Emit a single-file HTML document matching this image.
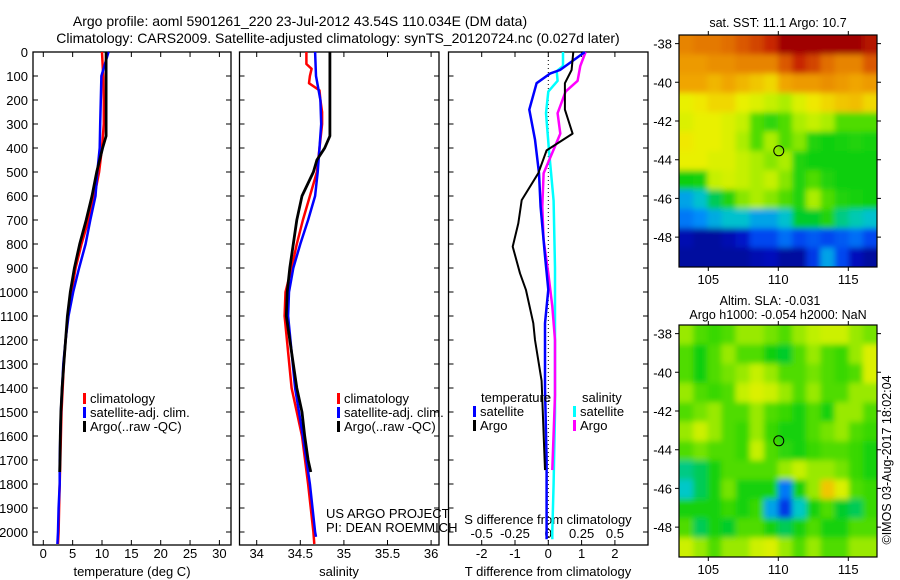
<!DOCTYPE html>
<html><head><meta charset="utf-8">
<style>
html,body{margin:0;padding:0;background:#fff;}
svg{display:block;font-family:"Liberation Sans",sans-serif;}
text{font-size:13px;fill:#000;}
</style></head>
<body>
<svg id="fig" width="900" height="580" viewBox="0 0 900 580">
<defs>
<filter id="blur" x="0" y="0" width="1" height="1"><feGaussianBlur stdDeviation="3"/></filter>
<clipPath id="clipM1"><rect x="679" y="35" width="198" height="232"/></clipPath>
<clipPath id="clipM2"><rect x="679" y="325" width="198" height="232"/></clipPath>
</defs>
<text x="300" y="26" text-anchor="middle" style="font-size:14px">Argo profile: aoml 5901261_220 23-Jul-2012 43.54S 110.034E (DM data)</text>
<text x="338" y="43" text-anchor="middle" style="font-size:14px">Climatology: CARS2009. Satellite-adjusted climatology: synTS_20120724.nc (0.027d later)</text>
<g id="g1"></g>
<g id="g2"></g>
<g id="g3"></g>
<g id="m1"></g>
<g id="m2"></g>
<text transform="translate(891,460) rotate(-90)" text-anchor="middle" style="font-size:12.5px">©IMOS 03-Aug-2017 18:02:04</text>
</svg>
<script>
// ---- profile data ----
const depthTicks=[0,100,200,300,400,500,600,700,800,900,1000,1100,1200,1300,1400,1500,1600,1700,1800,1900,2000];
const tempTicks=[0,5,10,15,20,25,30];
const salTicks=[34,34.5,35,35.5,36];
const tdiffTicks=[-2,-1,0,1,2];
const sdiffTicks=[-0.5,-0.25,0,0.25,0.5];
const sdiffTickLabels=["-0.5","-0.25","0","0.25","0.5"];

const climDepth=[0,100,200,300,400,500,600,700,800,900,1000,1100,1200,1300,1400,1500,1600,1700,1800,1900,2000,2050];
const climTemp=[10.0,10.2,10.3,10.3,10.0,9.5,8.7,7.7,6.5,5.5,4.8,4.2,3.8,3.5,3.3,3.1,3.0,2.9,2.8,2.7,2.6,2.5];
const satTemp=[11.1,9.9,9.8,9.7,9.6,9.2,8.9,8.0,7.2,6.1,5.1,4.3,3.8,3.4,3.2,3.0,2.9,2.8,2.8,2.6,2.5,2.4];
const argoDepth=[0,100,200,300,350,400,500,600,700,800,900,1000,1100,1200,1300,1400,1500,1600,1700,1750];
const argoTemp=[10.7,10.7,10.7,10.7,10.7,10.1,9.1,8.3,7.3,6.2,5.3,4.6,4.1,3.8,3.5,3.2,3.0,2.9,2.85,2.8];

const climSalDepth=[0,50,70,100,130,160,200,250,300,400,500,600,700,800,900,1000,1100,1400,1600,1800,2000,2050];
const climSal=[34.57,34.57,34.63,34.61,34.60,34.72,34.73,34.75,34.75,34.72,34.69,34.61,34.53,34.46,34.40,34.33,34.32,34.40,34.52,34.59,34.65,34.66];
const satSalDepth=[0,100,200,300,400,500,600,700,800,900,1000,1100,1400,1600,1800,2000,2020];
const satSal=[34.67,34.68,34.73,34.74,34.72,34.70,34.67,34.59,34.50,34.42,34.37,34.36,34.44,34.53,34.61,34.67,34.68];
const argoSalDepth=[0,350,400,450,500,600,700,800,900,1000,1100,1400,1500,1600,1700,1750];
const argoSal=[34.84,34.84,34.78,34.69,34.65,34.52,34.46,34.42,34.38,34.35,34.34,34.46,34.52,34.55,34.59,34.62];

const dTsatDepth=[0,75,90,130,240,365,505,645,850,990,1130,1400,1700,2000,2030];
const dTsat=[1.1,0.35,0.05,-0.35,-0.57,-0.4,-0.28,-0.23,-0.1,0,-0.1,-0.1,-0.05,-0.05,-0.05];
const dTargoDepth=[0,75,130,240,340,365,410,505,617,714,811,922,992,1130,1200,1370,1742];
const dTargo=[0.75,0.7,0.5,0.5,0.73,0.45,-0.05,-0.3,-0.8,-0.9,-1.07,-0.85,-0.67,-0.45,-0.4,-0.2,-0.1];
const dSsatDepth=[0,58,80,120,165,255,410,620,900,1200,1500,1800,2000,2030];
const dSsat=[0.11,0.11,0.063,0.07,0,-0.017,0.005,0.04,0.05,0.05,0.05,0.04,0.03,0.03];
const dSargoDepth=[0,58,120,165,255,340,400,505,645,783,922,1060,1200,1430,1742];
const dSargo=[0.28,0.24,0.22,0.13,0.07,0.09,0.045,-0.035,-0.045,-0.035,0,0.03,0.05,0.05,0.03];

// ---- map data (colormap fraction, rows north->south at 1 deg) ----
const lonTicks=[105,110,115];
const latTicks=[-38,-40,-42,-44,-46,-48];
const sstGrid=[
[0.78,0.8,0.8,0.82,0.85,0.88,0.92,1,1,1,1,1,1,0.96],
[0.74,0.74,0.76,0.76,0.78,0.78,0.78,0.85,0.92,0.88,0.82,0.78,0.78,0.85],
[0.72,0.72,0.7,0.72,0.7,0.68,0.66,0.72,0.74,0.74,0.76,0.74,0.72,0.74],
[0.62,0.64,0.66,0.66,0.62,0.6,0.57,0.55,0.6,0.64,0.66,0.68,0.69,0.66],
[0.6,0.62,0.62,0.6,0.57,0.5,0.47,0.5,0.55,0.57,0.55,0.5,0.5,0.5],
[0.64,0.62,0.62,0.6,0.55,0.5,0.55,0.5,0.53,0.46,0.44,0.45,0.46,0.45],
[0.62,0.62,0.6,0.6,0.57,0.55,0.53,0.55,0.46,0.44,0.44,0.44,0.44,0.44],
[0.44,0.45,0.57,0.59,0.57,0.55,0.57,0.53,0.46,0.5,0.46,0.44,0.44,0.44],
[0.3,0.34,0.4,0.46,0.53,0.55,0.53,0.5,0.46,0.55,0.5,0.46,0.45,0.44],
[0.25,0.27,0.31,0.34,0.34,0.3,0.3,0.34,0.42,0.42,0.46,0.38,0.36,0.34],
[0.08,0.05,0.05,0.08,0.12,0.2,0.2,0.24,0.2,0.22,0.2,0.22,0.24,0.2],
[0.05,0.05,0.05,0.05,0.05,0.08,0.1,0.05,0.05,0.18,0.3,0.2,0.1,0.05]];
const slaGrid=[
[0.54,0.5,0.48,0.5,0.54,0.54,0.52,0.5,0.54,0.56,0.58,0.58,0.54,0.52],
[0.5,0.44,0.5,0.54,0.5,0.5,0.44,0.42,0.5,0.54,0.5,0.48,0.54,0.6],
[0.5,0.44,0.5,0.52,0.54,0.57,0.54,0.5,0.5,0.52,0.5,0.48,0.5,0.6],
[0.54,0.5,0.48,0.5,0.57,0.6,0.58,0.54,0.5,0.54,0.5,0.5,0.54,0.54],
[0.5,0.52,0.54,0.5,0.5,0.54,0.5,0.48,0.45,0.5,0.45,0.54,0.54,0.5],
[0.54,0.58,0.54,0.5,0.48,0.54,0.48,0.45,0.45,0.5,0.52,0.54,0.5,0.48],
[0.5,0.52,0.5,0.5,0.48,0.57,0.5,0.47,0.45,0.48,0.5,0.5,0.48,0.45],
[0.38,0.4,0.45,0.5,0.5,0.5,0.5,0.54,0.57,0.54,0.54,0.52,0.48,0.45],
[0.35,0.4,0.45,0.52,0.45,0.45,0.45,0.25,0.45,0.54,0.68,0.6,0.5,0.48],
[0.45,0.45,0.45,0.48,0.45,0.48,0.3,0.18,0.35,0.45,0.5,0.42,0.4,0.48],
[0.5,0.4,0.45,0.42,0.5,0.5,0.45,0.4,0.45,0.5,0.45,0.45,0.5,0.5],
[0.58,0.54,0.5,0.54,0.54,0.58,0.6,0.54,0.5,0.54,0.5,0.5,0.54,0.54]];
const floatLon=110.034, floatLat=-43.54;

const NS="http://www.w3.org/2000/svg";
function mk(parent,tag,attrs,txt){const e=document.createElementNS(NS,tag);for(const k in attrs)e.setAttribute(k,attrs[k]);if(txt!==undefined)e.textContent=txt;parent.appendChild(e);return e;}

const TOP=52,BOT=545;
const yD=d=>TOP+d*0.24;
function panel(g,x0,x1,name){
  const r=mk(g,'rect',{x:x0,y:TOP,width:x1-x0,height:BOT-TOP,fill:'none',stroke:'#000','stroke-width':1.3});
  
  
  depthTicks.forEach(d=>{
    const t=mk(g,'path',{d:`M${x0},${yD(d)}h5M${x1},${yD(d)}h-5`,stroke:'#000','stroke-width':1});
    
    
  });
}
function xticks(g,xs,fx,labels,ly,name){
  xs.forEach((v,i)=>{
    const x=fx(v);
    const t=mk(g,'path',{d:`M${x},${TOP}v5M${x},${BOT}v-5`,stroke:'#000','stroke-width':1});
    
    
    if(labels){
      const l=mk(g,'text',{x:x,y:ly,'text-anchor':'middle'},labels[i]);
      
      
    }
  });
}
function line(g,xs,ds,fx,color,w,name){
  const pts=xs.map((v,i)=>fx(v).toFixed(1)+','+yD(ds[i]).toFixed(1)).join(' ');
  const p=mk(g,'polyline',{points:pts,fill:'none',stroke:color,'stroke-width':w,'stroke-linejoin':'round'});
  
  
}
function legend(g,x,y,color,label,name){
  const b=mk(g,'rect',{x:x,y:y-10,width:3,height:11,fill:color});
  
  
  const t=mk(g,'text',{x:x+7,y:y},label);
  
  
}

const g1=document.getElementById('g1');
depthTicks.forEach(d=>{
  const t=mk(g1,'text',{x:28,y:yD(d)+5,'text-anchor':'end'},String(d));
  
  
});
const fT=v=>43.3+5.87*v;
panel(g1,33,231,'temperature-panel');
xticks(g1,tempTicks,fT,tempTicks.map(String),558,'temperature');
line(g1,climTemp,climDepth,fT,'#f00',2.5,'climatology-temperature-line');
line(g1,satTemp,climDepth,fT,'#00f',2.5,'satellite-temperature-line');
line(g1,argoTemp,argoDepth,fT,'#000',2.8,'argo-temperature-line');
legend(g1,83,403,'#f00','climatology','temp-legend-climatology');
legend(g1,83,417,'#00f','satellite-adj. clim.','temp-legend-satellite');
legend(g1,83,431,'#000','Argo(..raw -QC)','temp-legend-argo');
mk(g1,'text',{x:132,y:576,'text-anchor':'middle'},'temperature (deg C)');

const g2=document.getElementById('g2');
const fS=v=>256.7+87.2*(v-34);
panel(g2,239.5,439,'salinity-panel');
xticks(g2,salTicks,fS,salTicks.map(String),558,'salinity');
line(g2,climSal,climSalDepth,fS,'#f00',2.5,'climatology-salinity-line');
line(g2,satSal,satSalDepth,fS,'#00f',2.5,'satellite-salinity-line');
line(g2,argoSal,argoSalDepth,fS,'#000',2.8,'argo-salinity-line');
legend(g2,337,403,'#f00','climatology','sal-legend-climatology');
legend(g2,337,417,'#00f','satellite-adj. clim.','sal-legend-satellite');
legend(g2,337,431,'#000','Argo(..raw -QC)','sal-legend-argo');
mk(g2,'text',{x:326,y:518},'US ARGO PROJECT');
mk(g2,'text',{x:326,y:532},'PI: DEAN ROEMMICH');
mk(g2,'text',{x:339,y:576,'text-anchor':'middle'},'salinity');

const g3=document.getElementById('g3');
const fdT=v=>548.3+33.3*v;
const fdS=v=>548.3+133.2*v;
panel(g3,448.5,648,'difference-panel');
const dl=mk(g3,'line',{x1:548.3,y1:TOP,x2:548.3,y2:BOT,stroke:'#000','stroke-width':1,'stroke-dasharray':'1,3'});


xticks(g3,tdiffTicks,fdT,tdiffTicks.map(String),558,'t-diff');
sdiffTicks.forEach((v,i)=>{
  const t=mk(g3,'text',{x:fdS(v),y:538,'text-anchor':'middle'},sdiffTickLabels[i]);
  
  
});
mk(g3,'text',{x:548,y:524,'text-anchor':'middle'},'S difference from climatology');
line(g3,dSsat,dSsatDepth,fdS,'#0ff',2.5,'satellite-salinity-diff-line');
line(g3,dSargo,dSargoDepth,fdS,'#f0f',2.5,'argo-salinity-diff-line');
line(g3,dTsat,dTsatDepth,fdT,'#00f',2.5,'satellite-temperature-diff-line');
line(g3,dTargo,dTargoDepth,fdT,'#000',2,'argo-temperature-diff-line');
mk(g3,'text',{x:481,y:402},'temperature');
mk(g3,'text',{x:582,y:402},'salinity');
legend(g3,473,416,'#00f','satellite','diff-legend-t-satellite');
legend(g3,473,430,'#000','Argo','diff-legend-t-argo');
legend(g3,573,416,'#0ff','satellite','diff-legend-s-satellite');
legend(g3,573,430,'#f0f','Argo','diff-legend-s-argo');
mk(g3,'text',{x:548,y:576,'text-anchor':'middle'},'T difference from climatology');

// ---- maps ----
const cmapStops=[[0,0,0,130],[0.12,0,20,200],[0.2,0,70,240],[0.27,0,140,250],[0.35,0,200,200],[0.43,0,205,20],[0.5,80,220,0],[0.56,190,240,0],[0.63,240,240,0],[0.72,240,165,0],[0.82,225,110,0],[0.92,200,40,0],[1,160,0,0]];
function cmap(v){
  v=Math.max(0,Math.min(1,v));
  for(let i=1;i<cmapStops.length;i++){
    const a=cmapStops[i-1],b=cmapStops[i];
    if(v<=b[0]){const t=(v-a[0])/(b[0]-a[0]);
      return `rgb(${Math.round(a[1]+t*(b[1]-a[1]))},${Math.round(a[2]+t*(b[2]-a[2]))},${Math.round(a[3]+t*(b[3]-a[3]))})`;}
  }
  return 'rgb(160,0,0)';
}
function drawMap(g,grid,top,clip,name){
  const L=679,R=877,B=top+232;
  const fx=lon=>708.3+14*(lon-105);
  const fy=lat=>top+8.6+19.35*(-38-lat);
  const cells=mk(g,'g',{'clip-path':`url(#${clip})`});
  const inner=mk(cells,'g',{filter:'url(#blur)'});
  const rows=grid.length,cols=grid[0].length;
  const cw=(R-L)/cols,ch=(B-top)/rows;
  for(let r=-1;r<=rows;r++)for(let c=-1;c<=cols;c++){
    const rr=Math.max(0,Math.min(rows-1,r)),cc=Math.max(0,Math.min(cols-1,c));
    const cell=mk(inner,'rect',{x:L+c*cw,y:top+r*ch,width:cw+0.5,height:ch+0.5,fill:cmap(grid[rr][cc])});
    
    
  }
  const fr=mk(g,'rect',{x:L,y:top,width:R-L,height:B-top,fill:'none',stroke:'#000','stroke-width':1.2});
  
  
  lonTicks.forEach(v=>{
    const x=fx(v);
    const t=mk(g,'path',{d:`M${x},${top}v-4M${x},${B}v4`,stroke:'#000'});
    
    
    const l=mk(g,'text',{x:x,y:B+17,'text-anchor':'middle'},String(v));
    
    
  });
  latTicks.forEach(v=>{
    const y=fy(v);
    const t=mk(g,'path',{d:`M${L},${y}h-4M${R},${y}h4`,stroke:'#000'});
    
    
    const l=mk(g,'text',{x:672,y:y+5,'text-anchor':'end'},String(v));
    
    
  });
  const c=mk(g,'circle',{cx:fx(floatLon),cy:fy(floatLat),r:5,fill:'none',stroke:'#000','stroke-width':1});
  
  
}
const m1=document.getElementById('m1'),m2=document.getElementById('m2');
drawMap(m1,sstGrid,35,'clipM1','sst-map');
drawMap(m2,slaGrid,325,'clipM2','sla-map');
mk(m1,'text',{x:778,y:27,'text-anchor':'middle',style:'font-size:12.5px'},'sat. SST: 11.1 Argo: 10.7');
mk(m2,'text',{x:770,y:305,'text-anchor':'middle',style:'font-size:12.5px'},'Altim. SLA: -0.031');
mk(m2,'text',{x:778,y:319,'text-anchor':'middle',style:'font-size:12.5px'},'Argo h1000: -0.054 h2000: NaN');
</script>
</body></html>
